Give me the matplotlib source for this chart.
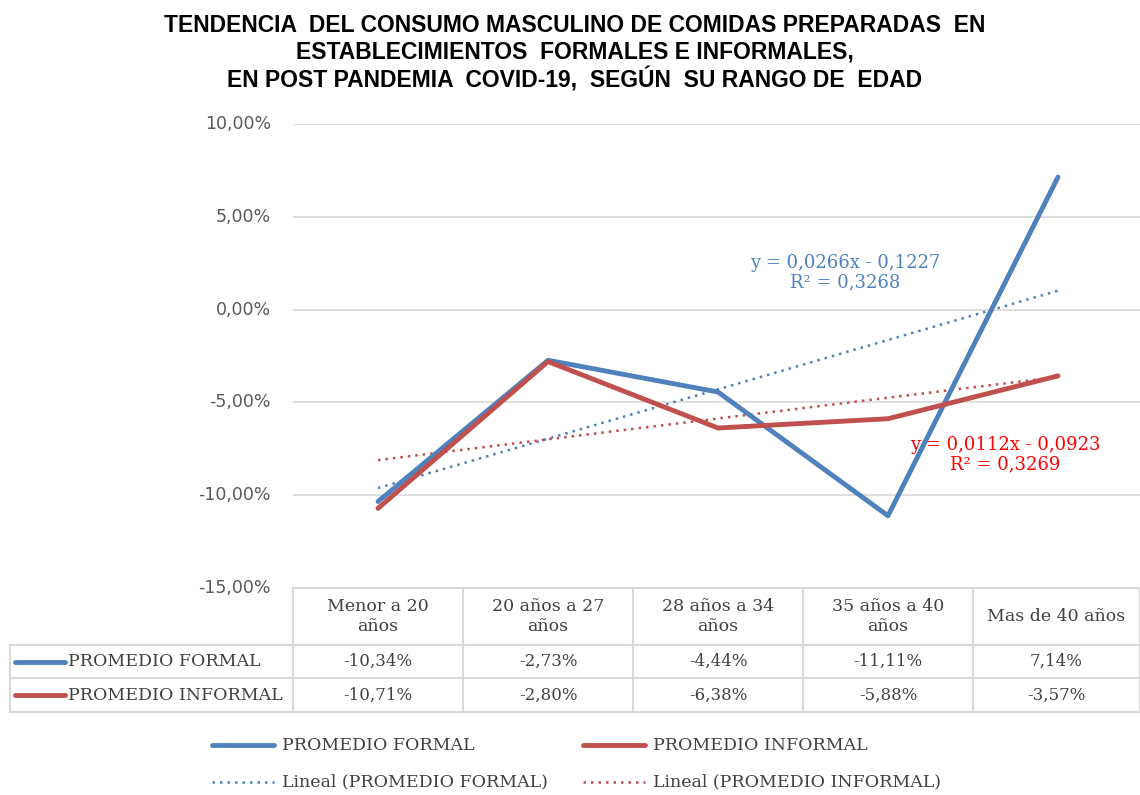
import numpy as np
import matplotlib
matplotlib.use("Agg")
import matplotlib.pyplot as plt

categories = ["Menor a 20\naños", "20 años a 27\naños", "28 años a 34\naños",
              "35 años a 40\naños", "Mas de 40 años"]
formal = [-10.34, -2.73, -4.44, -11.11, 7.14]
informal = [-10.71, -2.80, -6.38, -5.88, -3.57]
series_names = ["PROMEDIO FORMAL", "PROMEDIO INFORMAL"]
yticks = [10, 5, 0, -5, -10, -15]

BLUE = "#4f81bd"
RED = "#c0504d"
GRID = "#d9d9d9"
TXT = "#404040"
SERIF = ["DejaVu Serif"]
W, H = 1140, 795

fig = plt.figure(figsize=(W / 100, H / 100), dpi=100)

def fx(px):
    return px / W

def fy(py):
    return 1 - py / H

ax_left, ax_right, ax_top, ax_bot = 293, 1143, 124, 588
ax = fig.add_axes([fx(ax_left), fy(ax_bot), fx(ax_right - ax_left), (ax_bot - ax_top) / H])
x = np.arange(len(categories))
ax.set_xlim(-0.5, len(categories) - 0.5)
ax.set_ylim(-15, 10)
for v in yticks:
    ax.axhline(v, color=GRID, lw=1.2, zorder=0)
ax.set_yticks([])
ax.set_xticks([])
for s in ax.spines.values():
    s.set_visible(False)

for v in yticks:
    fig.text(fx(271), fy(ax_bot) + (v + 15) / 25 * (ax_bot - ax_top) / H,
             f"{v:.2f}".replace(".", ",") + "%", ha="right", va="center",
             fontsize=12.5, color="#595959", family="DejaVu Sans")

ax.plot(x, formal, color=BLUE, lw=3.5, solid_capstyle="round", zorder=3)
ax.plot(x, informal, color=RED, lw=3.5, solid_capstyle="round", zorder=3)

xs = x + 1
pf = np.polyfit(xs, np.array(formal) / 100, 1)
pi = np.polyfit(xs, np.array(informal) / 100, 1)
ax.plot(x, np.polyval(pf, xs) * 100, color=BLUE, lw=1.8, ls=(0, (1, 2)), zorder=2)
ax.plot(x, np.polyval(pi, xs) * 100, color=RED, lw=1.8, ls=(0, (1, 2)), zorder=2)

ax.text(2.75, 1.97, "y = 0,0266x - 0,1227\nR² = 0,3268", color=BLUE, ha="center",
        va="center", fontsize=13, family=SERIF, linespacing=1.1)
ax.text(3.69, -7.8, "y = 0,0112x - 0,0923\nR² = 0,3269", color="#ff0000", ha="center",
        va="center", fontsize=13, family=SERIF, linespacing=1.1)

# title
title_lines = ["TENDENCIA  DEL CONSUMO MASCULINO DE COMIDAS PREPARADAS  EN",
               "ESTABLECIMIENTOS  FORMALES E INFORMALES,",
               "EN POST PANDEMIA  COVID-19,  SEGÚN  SU RANGO DE  EDAD"]
for i, t in enumerate([25, 52, 80]):
    fig.text(fx(575), fy(t), title_lines[i], ha="center", va="center", fontsize=16.5,
             fontweight="bold", family=["Liberation Sans Narrow", "Liberation Sans"])

# data table
ov = fig.add_axes([0, 0, 1, 1])
ov.set_xlim(0, W)
ov.set_ylim(H, 0)
ov.axis("off")
ov.patch.set_alpha(0)
col_edges = [ax_left + 170 * i for i in range(6)]
col_edges[-1] = 1140
rows = [588, 645, 678, 712]
tl = dict(color=GRID, lw=1.5)
ov.plot([col_edges[0], col_edges[-1]], [rows[0], rows[0]], **tl)
for r in rows[1:]:
    ov.plot([10, col_edges[-1]], [r, r], **tl)
for cx in col_edges:
    ov.plot([cx, cx], [rows[0], rows[3]], **tl)
ov.plot([10, 10], [rows[1], rows[3]], **tl)

for i, c in enumerate(categories):
    cx = (col_edges[i] + col_edges[i + 1]) / 2
    ov.text(cx, (rows[0] + rows[1]) / 2, c, ha="center", va="center", fontsize=12.5,
            family=SERIF, color=TXT, linespacing=1.3)
for r, (vals, col, name) in enumerate([(formal, BLUE, series_names[0]), (informal, RED, series_names[1])]):
    cy = (rows[1 + r] + rows[2 + r]) / 2
    ov.plot([15, 65], [cy, cy], color=col, lw=3.5, solid_capstyle="round")
    ov.text(68, cy, name, ha="left", va="center", fontsize=12.5, family=SERIF, color=TXT)
    for i, v in enumerate(vals):
        cx = (col_edges[i] + col_edges[i + 1]) / 2
        ov.text(cx, cy, f"{v:.2f}".replace(".", ",") + "%", ha="center", va="center",
                fontsize=12, family=SERIF, color=TXT)

# legend
leg = [(212, 745, BLUE, "-", series_names[0]), (583, 745, RED, "-", series_names[1]),
       (212, 782, BLUE, ":", "Lineal (" + series_names[0] + ")"),
       (583, 782, RED, ":", "Lineal (" + series_names[1] + ")")]
for lx, ly, col, st, lab in leg:
    if st == "-":
        ov.plot([lx, lx + 62], [ly, ly], color=col, lw=3.5, solid_capstyle="round")
    else:
        ov.plot([lx, lx + 62], [ly, ly], color=col, lw=1.8, ls=(0, (1, 2)))
    ov.text(lx + 70, ly, lab, ha="left", va="center", fontsize=12.5, family=SERIF, color=TXT)

fig.savefig("out.png", dpi=100)
